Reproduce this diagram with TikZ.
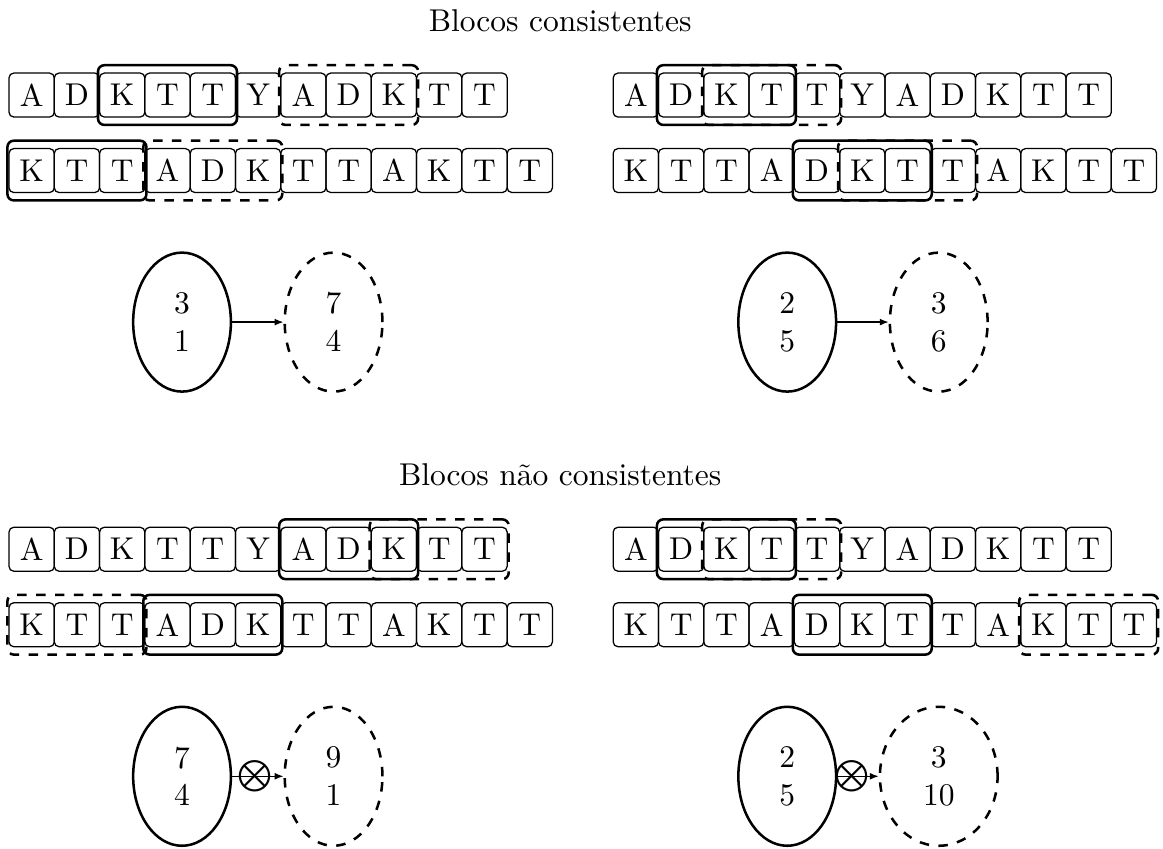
\documentclass[tikz,border=0pt]{standalone}
\usetikzlibrary{shapes.geometric,fit,arrows.meta}

\begin{document}
\begin{tikzpicture}
    \def\w{0.505}
    \def\desl{5.065}
    \tikzset{
        letra/.style={draw, rounded corners=1.5pt, minimum width=\w cm, minimum height=0.49cm, inner sep=0pt, outer sep=0pt},
        bloco/.style={draw, thick, rounded corners=2pt, inner xsep=0.5pt, inner ysep=2.5pt},
        blocotr/.style={bloco, dashed},
        conj/.style={draw, thick, ellipse, align=center, minimum width=1.09cm, minimum height=1.55cm, inner xsep=8.2pt},
        seta/.style={-{Latex[length=2.8pt,width=2.2pt]}}
    }
    \useasboundingbox (0,0) rectangle (12.97,-9.46);
    % Titles
    \node (tit1) at (6.247,-0.234) {Blocos consistentes};
    \node (tit2) at (6.247,-0.234-\desl) {Blocos não consistentes};
    % Sequences
    \foreach \p/\px/\py in {a/0.353/0, b/7.091/0, c/0.353/-\desl, d/7.091/-\desl} {
        \foreach \l [count=\i] in {A,D,K,T,T,Y,A,D,K,T,T}
            \node[letra] (\p1-\i) at ({\px+(\i-1)*\w},{\py-1.060}) {\l};
        \foreach \l [count=\i] in {K,T,T,A,D,K,T,T,A,K,T,T}
            \node[letra] (\p2-\i) at ({\px+(\i-1)*\w},{\py-1.902}) {\l};
    }
    % Blocks
    \foreach \p/\r/\i/\j/\s in {a/1/3/5/bloco, a/1/7/9/blocotr, a/2/1/3/bloco, a/2/4/6/blocotr,
                                b/1/2/4/bloco, b/1/3/5/blocotr, b/2/5/7/bloco, b/2/6/8/blocotr,
                                c/1/7/9/bloco, c/1/9/11/blocotr, c/2/4/6/bloco, c/2/1/3/blocotr,
                                d/1/2/4/bloco, d/1/3/5/blocotr, d/2/5/7/bloco, d/2/10/12/blocotr}
        \node[\s, fit=(\p\r-\i)(\p\r-\j)] (\p\r-\s) {};
    % Consistent
    \node[conj] (a-ini) at (2.030,-3.592) {3\\1};
    \node[conj, dashed] (a-fim) at (3.720,-3.592) {7\\4};
    \draw[seta] (a-ini) -- (a-fim);
    \node[conj] (b-ini) at (8.779,-3.592) {2\\5};
    \node[conj, dashed] (b-fim) at (10.469,-3.592) {3\\6};
    \draw[seta] (b-ini) -- (b-fim);
    % Not consistent
    \node[conj] (c-ini) at (2.030,-3.592-\desl) {7\\4};
    \node[conj, dashed] (c-fim) at (3.720,-3.592-\desl) {9\\1};
    \draw[seta] (c-ini) -- node[pos=0.45, inner sep=0pt] (c-x) {$\bigotimes$} (c-fim);
    \node[conj] (d-ini) at (8.779,-3.592-\desl) {2\\5};
    \node[conj, dashed] (d-fim) at (10.469,-3.592-\desl) {3\\10};
    \draw[seta] (d-ini) -- node[pos=0.36, inner sep=0pt] (d-x) {$\bigotimes$} (d-fim);
\end{tikzpicture}
\end{document}
